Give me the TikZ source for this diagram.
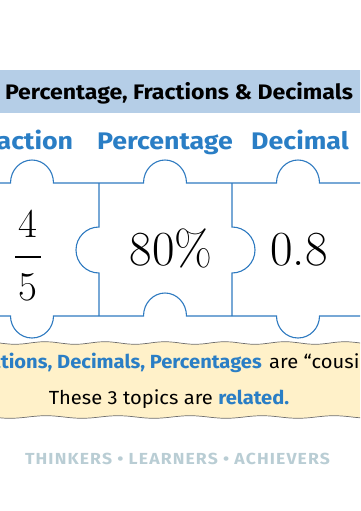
\documentclass[tikz,border=0pt]{standalone}
\usepackage{fontspec}
\newfontfamily\titlefont[FakeStretch=1.10]{Fira Sans}
\newfontfamily\headfont[FakeStretch=1.115]{Fira Sans}
\newfontfamily\notefont[FakeStretch=1.06]{Fira Sans}
\newfontfamily\mottofont[FakeStretch=1.10,LetterSpace=7]{Fira Sans}
\usetikzlibrary{positioning}
\definecolor{pieceblue}{RGB}{46,122,192}
\definecolor{headblue}{RGB}{42,126,197}
\definecolor{bandblue}{RGB}{181,206,231}
\definecolor{notecream}{RGB}{255,241,201}
\definecolor{noteedge}{RGB}{110,110,110}
\definecolor{footgray}{RGB}{185,205,212}

\begin{document}
\begin{tikzpicture}
  [x=1pt,y=-1pt,
   pieceL/.style={pieceblue,line width=1.1pt},
   titleT/.style={font=\titlefont\bfseries\fontsize{21}{22}\selectfont,inner sep=0},
   headT/.style={font=\headfont\bfseries\fontsize{24}{25}\selectfont,text=headblue,inner sep=0,anchor=base},
   numN/.style={font=\fontsize{49}{50}\selectfont,inner sep=0,anchor=base},
   fracN/.style={font=\fontsize{41}{42}\selectfont,inner sep=0,anchor=base},
   noteT/.style={font=\notefont\fontsize{19}{20}\selectfont,inner sep=0},
   blueW/.style={text=headblue,font=\notefont\bfseries\fontsize{19}{20}\selectfont}]

  \useasboundingbox (0,0) rectangle (360,511);
  \clip (0,0) rectangle (360,511);

  % title band
  \fill[bandblue] (-2,70) rectangle (362,113);
  \node[titleT,anchor=base] (title) at (179,99) {Percentage, Fractions \& Decimals};

  % column headings
  \node[headT] (fracH) at (24,149) {Fraction};
  \node[headT] (percH) at (165,149) {Percentage};
  \node[headT] (deciH) at (300,149) {Decimal};

  % puzzle pieces
  \draw[pieceL] (-5,183) -- (10.5,183)
      arc[start angle=180,end angle=360,x radius=21.5,y radius=23] -- (143.5,183)
      arc[start angle=180,end angle=360,x radius=21.5,y radius=23] -- (276.5,183)
      arc[start angle=180,end angle=360,x radius=21.5,y radius=23] -- (370,183);
  \draw[pieceL] (-5,316) -- (10.5,316)
      arc[start angle=180,end angle=0,x radius=21.5,y radius=22] -- (143.5,316)
      arc[start angle=180,end angle=360,x radius=21.5,y radius=23] -- (276.5,316)
      arc[start angle=180,end angle=0,x radius=21.5,y radius=22] -- (370,316);
  \draw[pieceL] (99,183) -- (99,227)
      arc[start angle=270,end angle=90,x radius=23,y radius=23] -- (99,316);
  \draw[pieceL] (232,183) -- (232,227)
      arc[start angle=270,end angle=450,x radius=23,y radius=23] -- (232,316);

  % values
  \node[fracN] (four) at (28,237) {4};
  \node[fracN] (five) at (28,300) {5};
  \coordinate (barL) at (15,257);
  \coordinate (barR) at (41,257);
  \draw[line width=2pt] (barL) -- (barR);
  \node[numN] (eighty) at (171,265) {80\%};
  \node[numN] (point) at (299,265) {0.8};

  % note band
  \fill[notecream] plot[smooth,domain=-5:365,samples=40] (\x,{343+1.3*sin(6*\x)})
      -- plot[smooth,domain=365:-5,samples=40] (\x,{417+1.3*sin(5*\x+40)}) -- cycle;
  \draw[noteedge,line width=0.7pt] plot[smooth,domain=-5:365,samples=40] (\x,{343+1.3*sin(6*\x)});
  \draw[noteedge,line width=0.7pt] plot[smooth,domain=-5:365,samples=40] (\x,{417+1.3*sin(5*\x+40)});
  \node[noteT,blueW,anchor=base east] (cousinA) at (262,368) {Fractions, Decimals, Percentages};
  \node[noteT,anchor=base west] (cousinB) at ([xshift=7pt]cousinA.base east) {are “cousins”.};
  \node[noteT,anchor=base] (related) at (169,404) {These 3 topics are \textcolor{headblue}{\bfseries related.}};

  % footer
  \node[font=\mottofont\bfseries\fontsize{16}{17}\selectfont,text=footgray,inner sep=0,anchor=base]
      (motto) at (177.5,464) {THINKERS • LEARNERS • ACHIEVERS};
\end{tikzpicture}
\end{document}
